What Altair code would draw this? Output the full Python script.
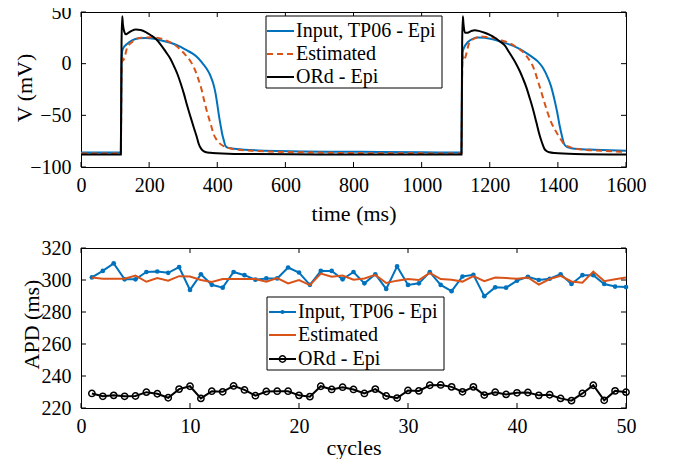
import altair as alt
import pandas as pd

FONT = "Liberation Serif"
BLUE = "#0072BD"
ORANGE = "#D95319"
BLACK = "#000000"

# ---------------- top panel: action potentials ----------------
t_tp06 = [0, 117, 119, 121, 124, 135, 150, 170, 190, 215, 239, 265, 288, 310, 327, 345, 356, 368, 380, 388, 395, 400, 405, 410, 415, 420, 424, 432, 444, 480, 580, 800, 1000, 1117,
          1119, 1121, 1124, 1136, 1150, 1166, 1185, 1205, 1230, 1253, 1280, 1302, 1322, 1341, 1356, 1370, 1380, 1390, 1398, 1405, 1412, 1419, 1428, 1439, 1470, 1507, 1600]
v_tp06 = [-86, -86, 0, 12, 15, 19, 22.5, 24.5, 24.8, 24, 22.2, 20, 17, 13, 9.9, 5, 0.6, -4.5, -11.7, -19, -28.7, -39, -50.3, -60, -68.8, -75, -79.6, -81.5, -82.1, -83.2, -84.5, -85.3, -85.7, -86,
          0, 12, 15, 21, 24, 25.3, 25, 23.8, 21.5, 19.1, 15.5, 11.4, 7, 2.2, -4, -13.3, -22, -34.9, -47, -59.6, -70, -78.1, -80.8, -81.8, -82.8, -83.3, -84.3]

t_est = [0, 117, 119, 121, 123, 127, 135, 150, 175, 210, 239, 260, 278, 295, 307, 320, 332, 346, 354, 361, 368, 376, 383, 390, 397, 405, 417, 429, 445, 463, 500, 541, 650, 800, 1000, 1117,
         1119, 1121, 1123, 1127, 1140, 1160, 1175, 1195, 1214, 1240, 1263, 1285, 1302, 1312, 1322, 1332, 1341, 1351, 1361, 1370, 1380, 1390, 1400, 1410, 1419, 1434, 1449, 1480, 1527, 1600]
v_est = [-87, -87, -10, 8, 3, 5, 15, 21, 25, 25.5, 23.8, 21, 17.6, 12.5, 8.3, 3, -4, -16.4, -25, -34.9, -44, -53.4, -61, -68.8, -73, -76.5, -79.5, -81.2, -82.5, -83.3, -84.2, -84.9, -85.8, -86.5, -86.8, -87,
         -10, 8, 3, 5, 20, 25, 26.2, 25.5, 24.7, 22, 19.1, 14.5, 9.9, 5.5, 0.6, -7, -16.4, -27, -38, -47.5, -56.5, -63, -68.8, -74, -78.1, -80.5, -82.1, -83.4, -84.3, -85.5]

t_ord = [0, 117, 119, 121, 123, 127, 132, 140, 150, 161, 175, 190, 205, 220, 235, 249, 262, 273, 283, 293, 302, 312, 322, 332, 340, 346, 353, 361, 372, 385, 450, 700, 1117,
         1119, 1121, 1123, 1127, 1135, 1145, 1156, 1170, 1185, 1200, 1214, 1230, 1244, 1256, 1268, 1278, 1288, 1297, 1307, 1317, 1327, 1337, 1346, 1354, 1361, 1368, 1375, 1390, 1450, 1600]
v_ord = [-88, -88, 20, 46, 38, 31, 28.4, 30, 32, 33, 32.5, 30.6, 27.5, 23.8, 18, 11.4, 5, -2.5, -10, -19.4, -29, -41, -52, -62.7, -71, -78, -82.5, -84.9, -86, -86.4, -87.3, -87.8, -88,
         20, 46, 38, 30, 30, 31.5, 32.4, 31.5, 29.9, 27.8, 25.3, 21.5, 17.6, 11.5, 5.2, -0.5, -7.1, -14, -22.5, -33, -44.1, -57, -68.8, -77, -82.7, -84.8, -85.8, -86.5, -87.3, -87.8]

time_ticks = [0, 200, 400, 600, 800, 1000, 1200, 1400, 1600]
v_ticks = [-100, -50, 0, 50]

# ---------------- bottom panel: APD per cycle ----------------
cycles = list(range(1, 51))
apd_tp06 = [301.6, 305.7, 310.4, 300.4, 300.4, 305, 305.3, 304.5, 308, 293.8,
            303.6, 297, 295.2, 305, 303, 300.2, 301, 301, 307.8, 304.7,
            297, 305.7, 305.7, 300.4, 305, 297.9, 303.6, 294.4, 308.5, 296.9,
            297.9, 304.9, 296.9, 293, 302.2, 303.2, 289.9, 295.4, 295.2, 299.6,
            302, 300, 300.8, 303.6, 297.5, 303, 303, 297.5, 295.9, 295.6]
apd_est = [301.6, 300.8, 300.8, 300.8, 302.8, 298.9, 301.2, 299.6, 302.4, 302.2,
           300, 298.8, 300.6, 300.6, 300.6, 300.6, 299, 301.2, 297.9, 300,
           296.8, 304, 302, 302.8, 300.2, 301, 303.2, 298.1, 299.6, 300.6,
           300, 304.5, 300.6, 300.2, 299, 302.4, 299.3, 301.6, 301.2, 300.8,
           301.6, 297.1, 300.6, 302.6, 299.1, 298.3, 305.3, 299.3, 300.4, 301.6]
apd_ord = [229.1, 227.3, 227.9, 227.3, 227.5, 229.9, 228.9, 226.4, 231.8, 233.6,
           226, 230.5, 230.1, 233.8, 231.3, 227.7, 230.3, 230.5, 230.5, 227.9,
           227.1, 233.6, 231.6, 233, 231.6, 229.1, 231.8, 227.5, 226.2, 231,
           230.7, 234.2, 234.4, 233.2, 230.1, 233.2, 228.1, 229.9, 228.5, 229.5,
           229.7, 227.9, 228.3, 226, 224.6, 229.1, 234.2, 224.8, 230.7, 229.9]

cycle_ticks = [0, 10, 20, 30, 40, 50]
apd_ticks = [220, 240, 260, 280, 300, 320]

labels = ["Input, TP06 - Epi", "Estimated", "ORd - Epi"]

W = 545
H1 = 155
H2 = 160
TICK = 5

def one():
    return alt.Data(values=[{}])

def ticks_layers(xs, ys, xscale, yscale, xaxis, yaxis, h):
    dx = pd.DataFrame({"tv": xs})
    dy = pd.DataFrame({"tv": ys})
    out = []
    out.append(alt.Chart(dx).mark_rule(color="black", strokeWidth=1).encode(
        x=alt.X("tv:Q", scale=xscale, axis=xaxis), y=alt.value(h), y2=alt.value(h - TICK)))
    out.append(alt.Chart(dx).mark_rule(color="black", strokeWidth=1).encode(
        x=alt.X("tv:Q", scale=xscale, axis=xaxis), y=alt.value(0), y2=alt.value(TICK)))
    out.append(alt.Chart(dy).mark_rule(color="black", strokeWidth=1).encode(
        y=alt.Y("tv:Q", scale=yscale, axis=yaxis), x=alt.value(0), x2=alt.value(TICK)))
    out.append(alt.Chart(dy).mark_rule(color="black", strokeWidth=1).encode(
        y=alt.Y("tv:Q", scale=yscale, axis=yaxis), x=alt.value(W), x2=alt.value(W - TICK)))
    return out

def legend_layers(box, rows, line_x0, line_x1, text_x, markers):
    x0, y0, x1, y1 = box
    out = [alt.Chart(one()).mark_rect(fill="white", stroke="black", strokeWidth=1).encode(
        x=alt.value(x0), x2=alt.value(x1), y=alt.value(y0), y2=alt.value(y1))]
    for (lab, col, dash, mk), ry in zip(markers, rows):
        kw = {"color": col, "strokeWidth": 2}
        if dash:
            kw["strokeDash"] = dash
        out.append(alt.Chart(one()).mark_rule(**kw).encode(
            x=alt.value(line_x0), x2=alt.value(line_x1), y=alt.value(ry)))
        if mk == "dot":
            out.append(alt.Chart(one()).mark_point(filled=True, color=col, size=18, opacity=1).encode(
                x=alt.value((line_x0 + line_x1) / 2), y=alt.value(ry)))
        elif mk == "circle":
            out.append(alt.Chart(one()).mark_point(filled=False, color=col, size=40, strokeWidth=1.5, opacity=1).encode(
                x=alt.value((line_x0 + line_x1) / 2), y=alt.value(ry)))
        out.append(alt.Chart(one()).mark_text(align="left", baseline="middle", font=FONT, fontSize=20, color="black").encode(
            x=alt.value(text_x), y=alt.value(ry), text=alt.value(lab)))
    return out

# ---- top chart ----
xs1 = alt.Scale(domain=[0, 1600], nice=False, zero=False)
ys1 = alt.Scale(domain=[-100, 50], nice=False, zero=False)

ax_x1 = alt.Axis(values=time_ticks, title="time (ms)", ticks=False, domain=False, grid=False, format="d",
                 labelFlush=False, labelPadding=8, titlePadding=8)
ax_y1 = alt.Axis(values=v_ticks, title="V (mV)", ticks=False, domain=False, grid=False, format="d",
                 labelPadding=10, titleX=-57, titleY=H1 / 2 - 2, titleBaseline="middle", titleAlign="center")

def trace(t, v, name, color, dash=None):
    df = pd.DataFrame({"t": t, "v": v, "s": name})
    kw = {"color": color, "strokeWidth": 2, "interpolate": "monotone", "clip": True}
    if dash:
        kw["strokeDash"] = dash
    return alt.Chart(df).mark_line(**kw).encode(
        x=alt.X("t:Q", scale=xs1, axis=ax_x1),
        y=alt.Y("v:Q", scale=ys1, axis=ax_y1),
        order="t:Q",
    )

top_layers = [
    trace(t_tp06, v_tp06, labels[0], BLUE),
    trace(t_est, v_est, labels[1], ORANGE, [6, 4]),
    trace(t_ord, v_ord, labels[2], BLACK),
]
top_layers += ticks_layers(time_ticks, v_ticks, xs1, ys1, ax_x1, ax_y1, H1)
top_layers += legend_layers(
    (185, 4, 361, 76), [19, 42, 65], 186, 213, 215,
    [(labels[0], BLUE, None, None), (labels[1], ORANGE, [6, 4], None), (labels[2], BLACK, None, None)])

top = alt.layer(*top_layers).properties(width=W, height=H1)

# ---- bottom chart ----
xs2 = alt.Scale(domain=[0, 50], nice=False, zero=False)
ys2 = alt.Scale(domain=[220, 320], nice=False, zero=False)
ax_x2 = alt.Axis(values=cycle_ticks, title="cycles", ticks=False, domain=False, grid=False, format="d",
                 labelFlush=False, labelPadding=8, titlePadding=1)
ax_y2 = alt.Axis(values=apd_ticks, title="APD (ms)", ticks=False, domain=False, grid=False, format="d",
                 labelPadding=10, titleX=-50, titleY=H2 / 2 - 4, titleBaseline="middle", titleAlign="center")

def apd(v, name):
    return pd.DataFrame({"c": cycles, "a": v, "s": name})

enc2 = dict(x=alt.X("c:Q", scale=xs2, axis=ax_x2), y=alt.Y("a:Q", scale=ys2, axis=ax_y2))

b_tp06 = alt.Chart(apd(apd_tp06, labels[0])).mark_line(
    color=BLUE, strokeWidth=2, point=alt.OverlayMarkDef(filled=True, color=BLUE, size=22, opacity=1)).encode(**enc2)
b_est = alt.Chart(apd(apd_est, labels[1])).mark_line(color=ORANGE, strokeWidth=2).encode(**enc2)
b_ord_line = alt.Chart(apd(apd_ord, labels[2])).mark_line(color=BLACK, strokeWidth=2).encode(**enc2)
b_ord_pts = alt.Chart(apd(apd_ord, labels[2])).mark_point(
    filled=False, color=BLACK, size=40, strokeWidth=1.5, opacity=1).encode(**enc2)

bot_layers = [b_tp06, b_est, b_ord_line, b_ord_pts]
bot_layers += ticks_layers(cycle_ticks, apd_ticks, xs2, ys2, ax_x2, ax_y2, H2)
bot_layers += legend_layers(
    (186, 49, 363, 122), [64, 87, 111], 188, 215, 217,
    [(labels[0], BLUE, None, "dot"), (labels[1], ORANGE, None, None), (labels[2], BLACK, None, "circle")])

bottom = alt.layer(*bot_layers).properties(width=W, height=H2)

chart = alt.vconcat(top, bottom, spacing=12).properties(
    padding={"left": 4, "top": -7, "right": 0, "bottom": 0}
).configure(
    font=FONT,
).configure_view(
    stroke="black", strokeWidth=1
).configure_axis(
    labelFont=FONT, titleFont=FONT, labelFontSize=20, titleFontSize=22,
    labelColor="black", titleColor="black", titleFontWeight="normal",
)

chart.save("out.html", embed_options={"renderer": "svg", "actions": False})
